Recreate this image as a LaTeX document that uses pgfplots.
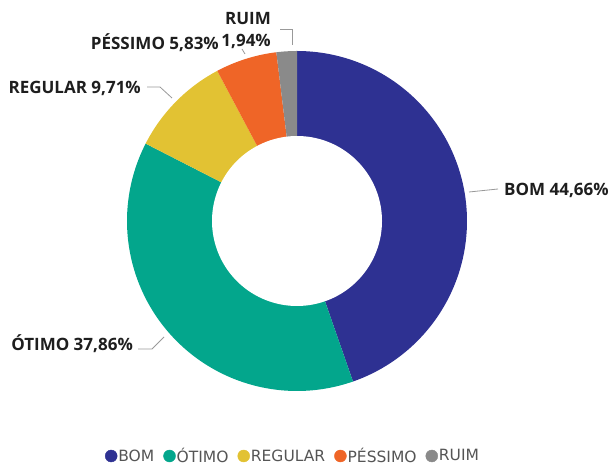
\documentclass[border=0pt]{standalone}
\usepackage{pgfplots}
\pgfplotsset{compat=1.18}
\usepackage{pgfplotstable}
\usepackage{fontspec}
\setmainfont{Open Sans}
\newfontfamily\legendfont{DejaVu Sans}
\definecolor{c0}{HTML}{2E3192}
\definecolor{c1}{HTML}{03A68C}
\definecolor{c2}{HTML}{E2C233}
\definecolor{c3}{HTML}{EF6527}
\definecolor{c4}{HTML}{8A8A8A}
\definecolor{labc}{HTML}{1E1E1E}
\definecolor{legc}{HTML}{555555}
\definecolor{leadc}{HTML}{999999}

\pgfplotstableread{
label value
BOM 44.66
OTIMO 37.86
REGULAR 9.71
PESSIMO 5.83
RUIM 1.94
}\data

% cumulative angles (clockwise from 12 o'clock)
\pgfplotstablegetelem{0}{value}\of\data \let\vA\pgfplotsretval
\pgfplotstablegetelem{1}{value}\of\data \let\vB\pgfplotsretval
\pgfplotstablegetelem{2}{value}\of\data \let\vC\pgfplotsretval
\pgfplotstablegetelem{3}{value}\of\data \let\vD\pgfplotsretval
\pgfplotstablegetelem{4}{value}\of\data \let\vE\pgfplotsretval
\pgfmathsetmacro\aA{90}
\pgfmathsetmacro\aB{\aA-3.6*\vA}
\pgfmathsetmacro\aC{\aB-3.6*\vB}
\pgfmathsetmacro\aD{\aC-3.6*\vC}
\pgfmathsetmacro\aE{\aD-3.6*\vD}
\pgfmathsetmacro\aF{\aE-3.6*\vE}

\def\cx{297}
\def\cy{244}
\def\R{170}
\def\r{85}

\begin{document}
\begin{tikzpicture}
\begin{axis}[
  scale only axis, width=609pt, height=465pt,
  xmin=0, xmax=609, ymin=0, ymax=465,
  hide axis, clip=false,
  legend columns=-1,
  legend style={draw=none, fill=none, at={(axis cs:292.5,9)}, anchor=center,
    font=\legendfont\fontsize{15.5}{18}\selectfont, text=legc,
    inner sep=0pt, nodes={inner sep=1pt},
    /tikz/every even column/.append style={column sep=8pt}},
  legend image code/.code={\fill[#1] (6pt,0pt) circle (6pt);},
]
\addplot[fill=c0, draw=none, domain=\aB:\aA, samples=120, forget plot]
  ({\cx+\R*cos(x)},{\cy+\R*sin(x)}) -- (axis cs:\cx,\cy) -- cycle;
\addplot[fill=c1, draw=none, domain=\aC:\aB, samples=120, forget plot]
  ({\cx+\R*cos(x)},{\cy+\R*sin(x)}) -- (axis cs:\cx,\cy) -- cycle;
\addplot[fill=c2, draw=none, domain=\aD:\aC, samples=40, forget plot]
  ({\cx+\R*cos(x)},{\cy+\R*sin(x)}) -- (axis cs:\cx,\cy) -- cycle;
\addplot[fill=c3, draw=none, domain=\aE:\aD, samples=30, forget plot]
  ({\cx+\R*cos(x)},{\cy+\R*sin(x)}) -- (axis cs:\cx,\cy) -- cycle;
\addplot[fill=c4, draw=none, domain=\aF:\aE, samples=20, forget plot]
  ({\cx+\R*cos(x)},{\cy+\R*sin(x)}) -- (axis cs:\cx,\cy) -- cycle;
% hole
\addplot[fill=white, draw=none, domain=0:360, samples=180, forget plot]
  ({\cx+\r*cos(x)},{\cy+\r*sin(x)}) -- cycle;

% leader lines
\addplot[leadc, line width=0.8pt, forget plot] coordinates {(469,273) (498,276)};
\addplot[leadc, line width=0.8pt, forget plot] coordinates {(164,128) (152,116) (138,116)};
\addplot[leadc, line width=0.8pt, forget plot] coordinates {(172,367) (160,378) (147,378)};
\addplot[leadc, line width=0.8pt, forget plot] coordinates {(245,411) (242,416)};
\addplot[leadc, line width=0.8pt, forget plot] coordinates {(292,420) (292,436) (280,436)};

% labels
\begin{scope}[every node/.style={font=\fontsize{17}{20}\selectfont\bfseries, text=labc, inner sep=0pt}]
\node[anchor=west] at (axis cs:504,275) {BOM 44,66\%};
\node[anchor=east] at (axis cs:133,121) {ÓTIMO 37,86\%};
\node[anchor=east] at (axis cs:141,377) {REGULAR 9,71\%};
\node[anchor=east] at (axis cs:219,422) {PÉSSIMO 5,83\%};
\node[anchor=east, align=right] at (axis cs:271,434) {RUIM\\[2pt]1,94\%};
\end{scope}

\addlegendimage{c0}\addlegendentry{BOM}
\addlegendimage{c1}\addlegendentry{ÓTIMO}
\addlegendimage{c2}\addlegendentry{REGULAR}
\addlegendimage{c3}\addlegendentry{PÉSSIMO}
\addlegendimage{c4}\addlegendentry{RUIM}
\end{axis}
\pgfresetboundingbox
\path (current axis.south west) rectangle (current axis.north east);
\end{tikzpicture}
\end{document}
